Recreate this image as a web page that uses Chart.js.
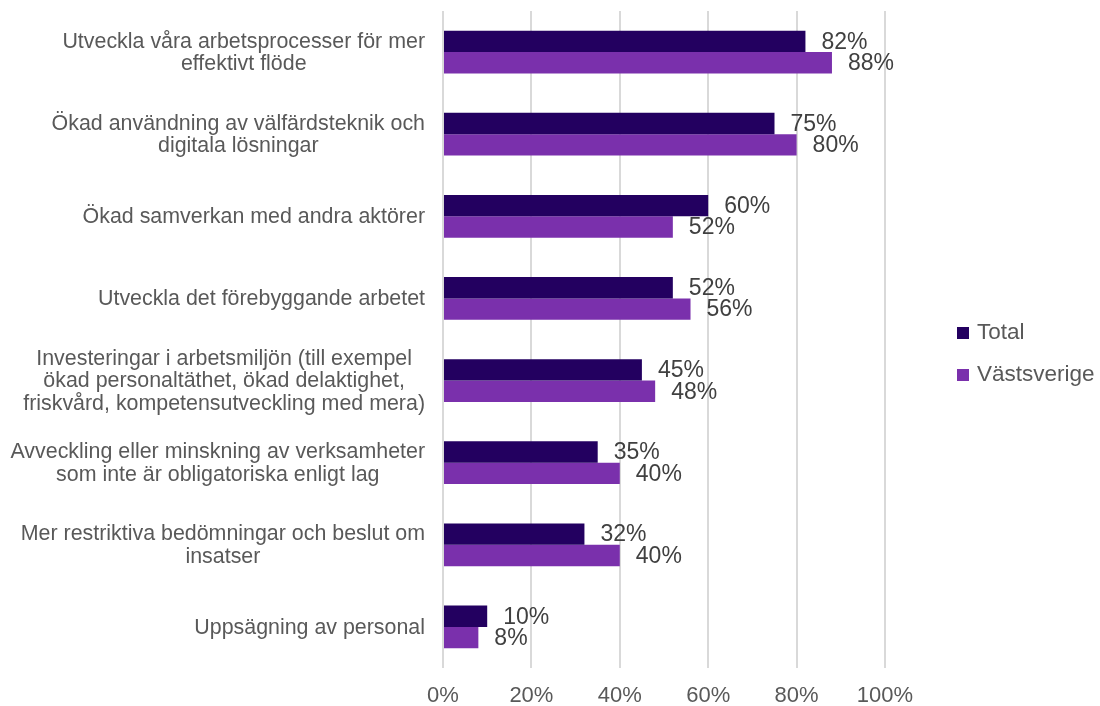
<!DOCTYPE html>
<html>
<head>
<meta charset="utf-8">
<script src="https://cdn.jsdelivr.net/npm/chart.js@4/dist/chart.umd.min.js"></script>
<style>
html,body{margin:0;padding:0;background:#fff;}
#wrap{width:1100px;height:706px;position:relative;}
</style>
</head>
<body>
<div id="wrap"><canvas id="c" width="1100" height="706"></canvas></div>
<script>
const categories = [
  ["Utveckla våra arbetsprocesser för mer", "effektivt flöde"],
  ["Ökad användning av välfärdsteknik och", "digitala lösningar"],
  ["Ökad samverkan med andra aktörer"],
  ["Utveckla det förebyggande arbetet"],
  ["Investeringar i arbetsmiljön (till exempel", "ökad personaltäthet, ökad delaktighet,", "friskvård, kompetensutveckling med mera)"],
  ["Avveckling eller minskning av verksamheter", "som inte är obligatoriska enligt lag"],
  ["Mer restriktiva bedömningar och beslut om", "insatser"],
  ["Uppsägning av personal"]
];
const totalValues = [82, 75, 60, 52, 45, 35, 32, 10];
const vastValues = [88, 80, 52, 56, 48, 40, 40, 8];
const seriesNames = ["Total", "Västsverige"];
const seriesColors = ["#230060", "#7a30ac"];
const tickLabels = ["0%", "20%", "40%", "60%", "80%", "100%"];

const FONT = "Arial, 'Liberation Sans', sans-serif";

const catLabelPlugin = {
  id: 'catLabels',
  afterDraw(chart) {
    const ctx = chart.ctx;
    const y = chart.scales.y;
    ctx.save();
    ctx.font = "21.4px " + FONT;
    ctx.fillStyle = "#595959";
    ctx.textAlign = "center";
    ctx.textBaseline = "middle";
    const right = chart.chartArea.left - 18;
    const lh = 22.5;
    categories.forEach((lines, i) => {
      const cy = y.getPixelForValue(i) + 1;
      let maxW = 0;
      lines.forEach(l => { maxW = Math.max(maxW, ctx.measureText(l).width); });
      const cx = right - maxW / 2;
      const start = cy - (lines.length - 1) * lh / 2;
      lines.forEach((l, k) => ctx.fillText(l, cx, start + k * lh));
    });
    ctx.restore();
  }
};

const dataLabelPlugin = {
  id: 'dataLabels',
  afterDatasetsDraw(chart) {
    const ctx = chart.ctx;
    ctx.save();
    ctx.font = "23px " + FONT;
    ctx.fillStyle = "#404040";
    ctx.textAlign = "left";
    ctx.textBaseline = "middle";
    chart.data.datasets.forEach((ds, di) => {
      const meta = chart.getDatasetMeta(di);
      meta.data.forEach((bar, i) => {
        ctx.fillText(ds.data[i] + "%", bar.x + 16, bar.y + 1);
      });
    });
    ctx.restore();
  }
};

const legendPlugin = {
  id: 'customLegend',
  afterDraw(chart) {
    const ctx = chart.ctx;
    ctx.save();
    ctx.font = "22.5px " + FONT;
    ctx.textAlign = "left";
    ctx.textBaseline = "middle";
    const ys = [333, 375];
    seriesNames.forEach((n, i) => {
      ctx.fillStyle = seriesColors[i];
      ctx.fillRect(957, ys[i] - 6, 12, 12);
      ctx.fillStyle = "#595959";
      ctx.fillText(n, 977, ys[i]);
    });
    ctx.restore();
  }
};

new Chart(document.getElementById('c'), {
  type: 'bar',
  data: {
    labels: categories,
    datasets: [
      { label: seriesNames[0], data: totalValues, backgroundColor: seriesColors[0] },
      { label: seriesNames[1], data: vastValues, backgroundColor: seriesColors[1] }
    ]
  },
  options: {
    indexAxis: 'y',
    responsive: false,
    animation: false,
    devicePixelRatio: 1,
    layout: { padding: { left: 443, right: 215, top: 11, bottom: 0 } },
    datasets: { bar: { categoryPercentage: 0.52, barPercentage: 1.0 } },
    plugins: { legend: { display: false }, tooltip: { enabled: false } },
    scales: {
      x: {
        min: 0, max: 100,
        afterFit: (s) => { s.height = 38; },
        ticks: {
          stepSize: 20,
          padding: 15,
          color: "#595959",
          font: { size: 22, family: FONT },
          callback: (v) => tickLabels[Math.round(v / 20)]
        },
        grid: { color: "#d9d9d9", lineWidth: 2, drawTicks: false },
        border: { display: false }
      },
      y: { display: false }
    }
  },
  plugins: [catLabelPlugin, dataLabelPlugin, legendPlugin]
});
</script>
</body>
</html>
